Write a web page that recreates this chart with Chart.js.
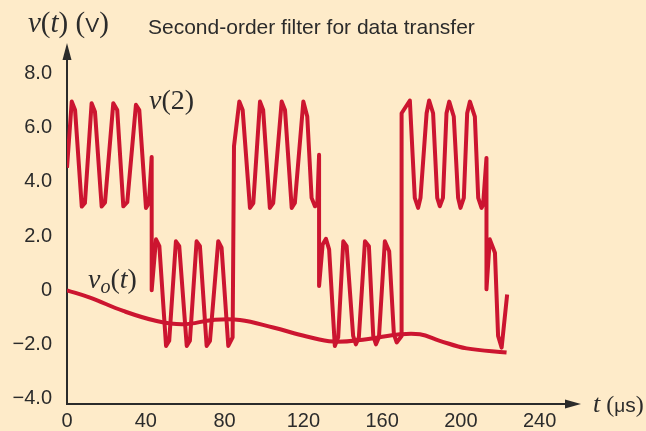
<!DOCTYPE html>
<html>
<head>
<meta charset="utf-8">
<script src="https://cdn.jsdelivr.net/npm/chart.js@4/dist/chart.umd.min.js"></script>
<style>
  html, body { margin: 0; padding: 0; background: #feebc9; }
  #wrap { width: 646px; height: 431px; position: relative; }
</style>
</head>
<body>
<div id="wrap"><canvas id="filter-chart"></canvas></div>
<script>
// v(2): filter input (digital data + ripple), t in us, v in V
let v2Time = [0, 2.4, 4.1, 7.5, 9.1, 12.5, 14.2, 17.6, 19.3, 23.5, 25.5, 28.6, 30.6, 35.0, 36.7, 40.1, 41.6, 43.0, 43.0,
  45.2, 46.9, 50.3, 51.9, 55.3, 57.0, 60.8, 62.4, 65.8, 67.5, 70.9, 72.6, 76.8, 78.5, 81.9, 84.1, 84.8,
  87.5, 89.2, 92.9, 94.6, 98.0, 99.6, 103.0, 104.7, 109.0, 110.7, 114.1, 115.7, 120.0, 122.0, 124.2, 125.9, 127.1, 128.0, 128.0,
  129.8, 131.5, 133.1, 136.0, 137.7, 140.3, 142.0, 145.3, 146.7, 148.2, 151.3, 153.3, 155.5, 156.9, 158.4, 161.4, 163.6, 166.0, 167.4, 169.9, 169.9,
  174.1, 176.6, 178.3, 179.5, 182.6, 183.9, 185.9, 188.0, 189.3, 190.9, 192.7, 194.1, 196.4, 198.6, 199.8, 201.5, 203.2, 204.6, 207.1, 208.8, 210.5, 211.3, 213.0, 213.0,
  214.7, 217.3, 218.9, 220.7, 223.5];
let v2Volts = [4.52, 6.96, 6.65, 3.09, 3.22, 6.90, 6.59, 3.09, 3.24, 6.90, 6.65, 3.10, 3.25, 6.84, 6.65, 3.04, 3.22, 4.92, 0,
  1.88, 1.63, -2.05, -1.86, 1.81, 1.63, -2.05, -1.86, 1.81, 1.63, -2.05, -1.86, 1.81, 1.57, -2.05, -1.73, 5.31,
  6.96, 6.65, 3.04, 3.22, 6.96, 6.65, 3.04, 3.22, 6.96, 6.65, 3.04, 3.22, 6.96, 6.41, 3.41, 3.10, 3.16, 5.0, 0.16,
  1.69, 1.90, 1.51, -2.05, -1.73, 1.81, 1.63, -1.68, -1.99, -1.73, 1.81, 1.63, -1.68, -1.99, -1.73, 1.81, 1.44, -1.62, -1.92, -1.68, 6.53,
  7.0, 3.41, 3.04, 3.41, 6.53, 7.0, 6.53, 3.41, 3.10, 3.41, 6.53, 6.96, 6.41, 3.41, 3.04, 3.41, 6.53, 6.96, 6.41, 3.41, 3.04, 3.16, 4.88, 0.04,
  1.88, 1.39, -1.68, -2.11, -0.15];

// vo(t): filter output
let voTime = [0, 11.7, 28.6, 45.5, 59.0, 74.3, 87.8, 104.7, 121.7, 135.2, 152.1, 169.0, 179.2, 189.3, 202.9, 223.2];
let voVolts = [0, -0.27, -0.76, -1.13, -1.25, -1.09, -1.09, -1.37, -1.70, -1.89, -1.80, -1.62, -1.62, -1.86, -2.14, -2.29];

let xTicks = [0, 40, 80, 120, 160, 200, 240];
let yTicks = [-4, -2, 0, 2, 4, 6, 8];
let yTickLabels = ["\u22124.0", "\u22122.0", "0", "2.0", "4.0", "6.0", "8.0"];

const red = "#cc1530";
const ink = "#2b2b2b";
const sans = "'Liberation Sans', Arial, sans-serif";
const serif = "'Liberation Serif', 'Times New Roman', serif";

function toPoints(xs, ys) {
  let pts = [];
  for (let k = 0; k < xs.length; k++) pts.push({ x: xs[k], y: ys[k] });
  return pts;
}

// draw text made of pieces with different fonts
function drawRuns(ctx, x, y, parts) {
  parts.forEach(function (p) {
    ctx.font = p[1];
    ctx.fillText(p[0], x, y + (p[2] || 0));
    x += ctx.measureText(p[0]).width;
  });
}

const axesAndText = {
  id: "axesAndText",
  beforeDatasetsDraw(chart) {
    const ctx = chart.ctx;
    const a = chart.chartArea;
    ctx.save();
    ctx.strokeStyle = ink;
    ctx.fillStyle = ink;
    ctx.lineWidth = 2;
    ctx.beginPath();
    ctx.moveTo(a.left, a.top + 10);
    ctx.lineTo(a.left, a.bottom);
    ctx.lineTo(a.right - 10, a.bottom);
    ctx.stroke();
    // arrow heads
    ctx.beginPath();
    ctx.moveTo(a.left, a.top);
    ctx.lineTo(a.left - 4.5, a.top + 17);
    ctx.lineTo(a.left + 4.5, a.top + 17);
    ctx.closePath();
    ctx.fill();
    ctx.beginPath();
    ctx.moveTo(a.right, a.bottom);
    ctx.lineTo(a.right - 16, a.bottom - 4.5);
    ctx.lineTo(a.right - 16, a.bottom + 4.5);
    ctx.closePath();
    ctx.fill();
    ctx.restore();
  },
  afterDraw(chart) {
    const ctx = chart.ctx;
    const a = chart.chartArea;
    ctx.save();
    ctx.fillStyle = ink;
    ctx.textBaseline = "alphabetic";
    ctx.font = "21px " + sans;
    ctx.fillText("Second-order filter for data transfer", 148, 34);

    const it = "italic 29px " + serif, up = "29px " + serif;
    drawRuns(ctx, 28, 32, [["v", it], ["(", up], ["t", it], [")", up], [" (", up], ["V", "21px " + sans], [")", up]]);

    const it2 = "italic 28px " + serif, up2 = "28px " + serif;
    drawRuns(ctx, 149, 109, [["v", it2], ["(", up2], ["2", up2], [")", up2]]);
    drawRuns(ctx, 88, 288, [["v", it2], ["o", "italic 20px " + serif, 5], ["(", up2], ["t", it2], [")", up2]]);
    drawRuns(ctx, a.right + 12, a.bottom + 8, [["t", "italic 26px " + serif], [" (", "24px " + serif], ["\u03bc", "19px " + sans], ["s", "21px " + sans], [")", "24px " + serif]]);
    ctx.restore();
  }
};

new Chart(document.getElementById("filter-chart"), {
  type: "line",
  data: {
    datasets: [{
      label: "v(2)",
      data: toPoints(v2Time, v2Volts),
      borderColor: red,
      borderWidth: 4,
      pointRadius: 0,
      tension: 0,
      borderJoinStyle: "round",
      fill: false
    }, {
      label: "vo(t)",
      data: toPoints(voTime, voVolts),
      borderColor: red,
      borderWidth: 4,
      pointRadius: 0,
      tension: 0.4,
      fill: false
    }]
  },
  options: {
    responsive: true,
    maintainAspectRatio: false,
    animation: false,
    layout: { padding: { left: 0, top: 43, right: 65, bottom: 0 } },
    plugins: {
      legend: { display: false },
      tooltip: { enabled: false },
      title: { display: false }
    },
    scales: {
      x: {
        type: "linear",
        min: 0,
        max: 261,
        grid: { display: false, drawTicks: false },
        border: { display: false },
        afterBuildTicks: function (scale) { scale.ticks = xTicks.map(v => ({ value: v })); },
        afterFit: function (scale) { scale.height = 26; },
        ticks: {
          padding: 5,
          color: ink,
          font: { family: sans, size: 20 },
          maxRotation: 0,
          autoSkip: false,
          callback: function (v) { return String(v); }
        }
      },
      y: {
        type: "linear",
        min: -4.19,
        max: 9.12,
        grid: { display: false, drawTicks: false },
        border: { display: false },
        afterBuildTicks: function (scale) { scale.ticks = yTicks.map(v => ({ value: v })); },
        afterFit: function (scale) { scale.width = 67; },
        ticks: {
          padding: 15,
          color: ink,
          font: { family: sans, size: 20 },
          autoSkip: false,
          callback: function (v) { return yTickLabels[yTicks.indexOf(v)]; }
        }
      }
    }
  },
  plugins: [axesAndText]
});
</script>
</body>
</html>
